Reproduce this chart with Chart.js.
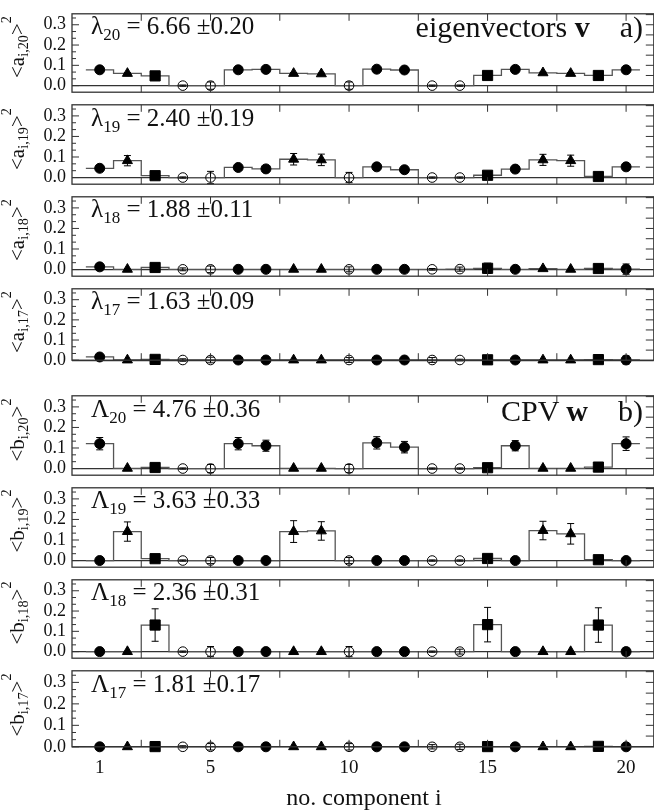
<!DOCTYPE html>
<html><head><meta charset="utf-8">
<script src="https://cdn.jsdelivr.net/npm/chart.js@4.4.1/dist/chart.umd.min.js"></script>
<style>
html,body{margin:0;padding:0;background:#fff;overflow:hidden;width:654px;height:810px;}
#wrap{position:relative;width:654px;height:810px;overflow:hidden;font-family:"Liberation Serif","Times New Roman",serif;color:#111;}
canvas{position:absolute;left:0;}
.lam{position:absolute;white-space:nowrap;font-size:25px;transform:translateY(-50%);line-height:1;}
.lam sub{font-size:68%;vertical-align:-0.3em;}
.ytit{position:absolute;white-space:nowrap;font-size:21px;line-height:1;transform:translate(-50%,-50%) rotate(-90deg);}
.ytit sub{font-size:68%;vertical-align:-0.3em;}
.ytit sup{font-size:68%;vertical-align:0.9em;}
.ptit{position:absolute;white-space:nowrap;font-size:30px;line-height:1;transform:translateY(-50%);}
.xtit{position:absolute;white-space:nowrap;font-size:24px;line-height:1;transform:translate(-50%,-50%);}
</style></head><body><div id="wrap"></div>
<script>
// ---- data ----
const components = [1,2,3,4,5,6,7,8,9,10,11,12,13,14,15,16,17,18,19,20];
const markerTypes = ['circle','triangle','square','open','open','circle','circle','triangle','triangle','open','circle','circle','open','open','square','circle','triangle','triangle','square','circle'];

const a20Values = [0.078,0.060,0.048,0.000,0.000,0.078,0.080,0.060,0.058,0.000,0.081,0.077,0.000,0.000,0.050,0.080,0.063,0.060,0.050,0.078];
const a20Errors = [0.004,0.004,0.004,0.003,0.018,0.004,0.004,0.004,0.004,0.018,0.004,0.004,0.003,0.003,0.004,0.004,0.004,0.004,0.004,0.004];
const a19Values = [0.045,0.082,0.009,0.000,0.000,0.049,0.042,0.089,0.086,0.000,0.052,0.038,0.000,0.000,0.011,0.041,0.086,0.082,0.005,0.052];
const a19Errors = [0.005,0.025,0.004,0.003,0.030,0.005,0.005,0.028,0.028,0.025,0.005,0.005,0.003,0.003,0.004,0.005,0.027,0.027,0.004,0.006];
const a18Values = [0.013,0.001,0.010,0.001,0.001,0.001,0.001,0.001,0.001,0.001,0.001,0.001,0.001,0.002,0.006,0.001,0.004,0.001,0.005,0.002];
const a18Errors = [0.004,0.002,0.016,0.007,0.016,0.003,0.003,0.002,0.002,0.012,0.003,0.003,0.004,0.010,0.025,0.003,0.003,0.002,0.006,0.025];
const a17Values = [0.016,0.001,0.004,0.001,0.001,0.001,0.001,0.001,0.001,0.001,0.001,0.001,0.001,0.001,0.002,0.001,0.001,0.001,0.003,0.001];
const a17Errors = [0.006,0.002,0.004,0.006,0.014,0.003,0.003,0.002,0.002,0.012,0.003,0.003,0.012,0.004,0.020,0.003,0.002,0.002,0.004,0.020];
const b20Values = [0.121,0.001,0.005,0.000,0.000,0.121,0.111,0.001,0.001,0.000,0.125,0.104,0.000,0.000,0.004,0.111,0.001,0.001,0.007,0.121];
const b20Errors = [0.030,0.002,0.004,0.003,0.020,0.030,0.027,0.002,0.002,0.020,0.030,0.028,0.003,0.003,0.010,0.025,0.002,0.002,0.005,0.033];
const b19Values = [0.000,0.141,0.009,0.000,0.000,0.000,0.000,0.141,0.144,0.000,0.000,0.000,0.000,0.000,0.010,0.000,0.146,0.130,0.004,0.000];
const b19Errors = [0.002,0.047,0.004,0.003,0.015,0.002,0.002,0.053,0.045,0.015,0.002,0.002,0.003,0.003,0.006,0.002,0.045,0.050,0.004,0.003];
const b18Values = [0.000,0.000,0.131,0.000,0.000,0.000,0.000,0.000,0.000,0.000,0.000,0.000,0.000,0.000,0.133,0.000,0.000,0.000,0.131,0.000];
const b18Errors = [0.002,0.002,0.080,0.003,0.025,0.002,0.002,0.002,0.002,0.025,0.002,0.002,0.003,0.012,0.085,0.002,0.002,0.002,0.085,0.018];
const b17Values = [0.000,0.000,0.001,0.000,0.000,0.000,0.000,0.000,0.000,0.000,0.000,0.000,0.000,0.000,0.001,0.000,0.000,0.000,0.002,0.000];
const b17Errors = [0.010,0.002,0.003,0.005,0.015,0.002,0.002,0.002,0.002,0.015,0.002,0.002,0.010,0.012,0.010,0.002,0.002,0.002,0.003,0.012];

const eigenSymbols = ['λ','λ','λ','λ','Λ','Λ','Λ','Λ'];
const eigenIndices = ['20','19','18','17','20','19','18','17'];
const eigenValues = ['6.66','2.40','1.88','1.63','4.76','3.63','2.36','1.81'];
const eigenErrors = ['0.20','0.19','0.11','0.09','0.36','0.33','0.31','0.17'];
const yTitleLetters = ['a','a','a','a','b','b','b','b'];
const yTickValues = [0.0, 0.1, 0.2, 0.3];
const yTickLabels = ['0.0','0.1','0.2','0.3'];
const xTickValues = [1, 5, 10, 15, 20];
const xTickLabels = ['1','5','10','15','20'];
const xTitle = 'no. component i';

const panelValues = [a20Values,a19Values,a18Values,a17Values,b20Values,b19Values,b18Values,b17Values];
const panelErrors = [a20Errors,a19Errors,a18Errors,a17Errors,b20Errors,b19Errors,b18Errors,b17Errors];

// ---- layout ----
const FONT = '"Liberation Serif","Times New Roman",serif';
const W = 662, LEFT = 72, PADR = 4;
const frameTops = [5, 96.7, 188.4, 280.1, 387.7, 479.4, 571.1, 662.8];
const ZERO_OFF = 84, BELOW = 7.7, YMAX = 0.354;
const Y_PER = ZERO_OFF / YMAX;
const lastInGroup = [false,false,false,true,false,false,false,true];
const wrap = document.getElementById('wrap');

const markerStyle = {
  circle:  {style:'circle',   r:5.0, bg:'#000'},
  triangle:{style:'triangle', r:5.8, bg:'#000'},
  square:  {style:'rect',     r:7.2, bg:'#000'},
  open:    {style:'circle',   r:4.8, bg:'rgba(0,0,0,0)'}
};

function seg(ctx,x1,y1,x2,y2){ctx.beginPath();ctx.moveTo(x1,y1);ctx.lineTo(x2,y2);ctx.stroke();}

const framePlugin = {
  id:'frameTicks',
  afterDraw(chart){
    const {ctx, chartArea:a, scales:{x,y}} = chart;
    ctx.save();
    ctx.strokeStyle = '#333'; ctx.lineWidth = 1.3;
    ctx.strokeRect(a.left, a.top, a.right - a.left, a.bottom - a.top);
    ctx.lineWidth = 1;
    for (let k = 0; k <= 10; k++) {
      const v = k * 0.1 / 3;
      if (v > y.max) break;
      const py = y.getPixelForValue(v);
      seg(ctx, a.left, py, a.left + (k % 3 === 0 ? 7 : 4), py);
    }
    for (let k = 1; k * 0.05 <= y.max; k++) {
      const py = y.getPixelForValue(k * 0.05);
      seg(ctx, a.right, py, a.right - 8, py);
    }
    for (let v = 2.5; v < x.max; v += 2.5) {
      const px = x.getPixelForValue(v);
      seg(ctx, px, a.top, px, a.top + 7);
      seg(ctx, px, a.bottom, px, a.bottom - 7);
    }
    ctx.restore();
  }
};

const errorPlugin = {
  id:'errBars',
  afterDatasetsDraw(chart){
    const {ctx, scales:{x,y}} = chart;
    const ds = chart.data.datasets[1];
    ctx.save(); ctx.strokeStyle = '#000'; ctx.lineWidth = 1;
    ds.data.forEach((p, i) => {
      const e = ds.errors[i];
      if (!e) return;
      const px = x.getPixelForValue(p.x);
      const y1 = y.getPixelForValue(p.y - e), y2 = y.getPixelForValue(p.y + e);
      if (Math.abs(y1 - y2) < 1) return;
      seg(ctx, px, y1, px, y2);
      seg(ctx, px - 3.5, y1, px + 3.5, y1);
      seg(ctx, px - 3.5, y2, px + 3.5, y2);
    });
    ctx.restore();
  }
};

panelValues.forEach((vals, k) => {
  const errs = panelErrors[k];
  const isBottom = (k === 7);
  const top = frameTops[k];
  const h = lastInGroup[k] ? ZERO_OFF : ZERO_OFF + BELOW;
  const yMin = lastInGroup[k] ? 0 : -BELOW / Y_PER;
  const cTop = Math.floor(top) - 8;
  const padTop = top - cTop;
  const axisH = isBottom ? 50 : 0;
  const cH = isBottom ? (810 - cTop) : Math.ceil(padTop + h + 12);
  const padBottom = cH - padTop - h - axisH;

  const cv = document.createElement('canvas');
  cv.width = W; cv.height = cH;
  cv.style.top = cTop + 'px'; cv.style.width = W + 'px'; cv.style.height = cH + 'px';
  wrap.appendChild(cv);

  const stepData = [{x:0.5, y:vals[0]}].concat(components.map((c,i)=>({x:c, y:vals[i]})), [{x:20.5, y:vals[19]}]);
  const pts = components.map((c,i)=>({x:c, y:vals[i]}));
  const ms = markerTypes.map(t => markerStyle[t]);

  new Chart(cv, {
    type:'scatter',
    data:{datasets:[
      {type:'line', data:stepData, stepped:'middle', borderColor:'#555', borderWidth:1.3, pointRadius:0, fill:false, order:2},
      {type:'scatter', data:pts, errors:errs, order:1, clip:false,
       pointStyle: ms.map(m=>m.style), pointRadius: ms.map(m=>m.r), pointHoverRadius: ms.map(m=>m.r),
       pointBackgroundColor: ms.map(m=>m.bg), pointBorderColor:'#000', pointBorderWidth:1}
    ]},
    options:{
      responsive:false, animation:false, devicePixelRatio:1,
      layout:{padding:{top:padTop, bottom:padBottom, left:0, right:PADR}},
      plugins:{legend:{display:false}, tooltip:{enabled:false}},
      events:[],
      scales:{
        x:{type:'linear', min:0, max:21, display:isBottom,
           grid:{display:false}, border:{display:false},
           afterBuildTicks:s=>{s.ticks = xTickValues.map(v=>({value:v}));},
           afterFit:s=>{s.height = axisH;},
           ticks:{callback:(v,i)=>xTickLabels[i], font:{family:FONT,size:19}, color:'#111', padding:2, maxRotation:0, autoSkip:false}},
        y:{type:'linear', min:yMin, max:YMAX,
           afterBuildTicks:s=>{s.ticks = yTickValues.map(v=>({value:v}));},
           afterFit:s=>{s.width = LEFT;},
           ticks:{callback:(v,i)=>yTickLabels[i], font:{family:FONT,size:18}, color:'#111', padding:6},
           grid:{drawTicks:false, lineWidth:1.3, color:c=> (c.tick && c.tick.value === 0) ? '#333' : 'rgba(0,0,0,0)'},
           border:{display:false}}
      }
    },
    plugins:[framePlugin, errorPlugin]
  });

  const lam = document.createElement('div');
  lam.className = 'lam';
  lam.style.left = '91px'; lam.style.top = (top + 23) + 'px';
  lam.innerHTML = eigenSymbols[k] + '<sub>' + eigenIndices[k] + '</sub> = ' + eigenValues[k] + ' ±' + eigenErrors[k];
  wrap.appendChild(lam);

  const yt = document.createElement('div');
  yt.className = 'ytit';
  yt.style.left = '15px'; yt.style.top = (top + 42) + 'px';
  yt.innerHTML = '&lt;' + yTitleLetters[k] + '<sub>i,' + eigenIndices[k] + '</sub>&gt;<sup>2</sup>';
  wrap.appendChild(yt);
});

const t1 = document.createElement('div');
t1.className = 'ptit'; t1.style.right = '11px'; t1.style.top = '27px';
t1.innerHTML = 'eigenvectors <b>v</b>&nbsp;&nbsp;&nbsp;&nbsp;a)';
wrap.appendChild(t1);
const t2 = document.createElement('div');
t2.className = 'ptit'; t2.style.right = '11px'; t2.style.top = '411px';
t2.innerHTML = 'CPV <b>w</b>&nbsp;&nbsp;&nbsp;&nbsp;b)';
wrap.appendChild(t2);
const xt = document.createElement('div');
xt.className = 'xtit'; xt.style.left = '364px'; xt.style.top = '797px';
xt.textContent = xTitle;
wrap.appendChild(xt);
</script></body></html>
